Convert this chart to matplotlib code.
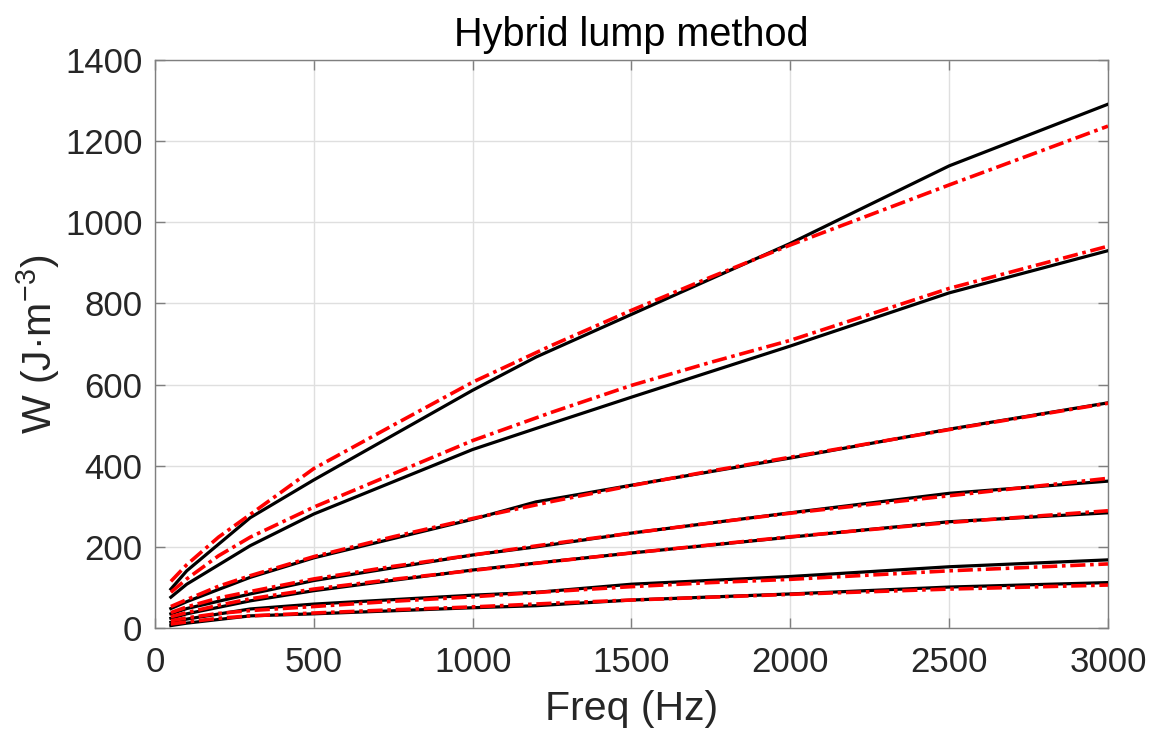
"""Hybrid lump method: measured (black) vs. model (red dash-dot) energy curves."""
import matplotlib
matplotlib.use("Agg")
import matplotlib.pyplot as plt

plt.rcParams["font.family"] = ["Liberation Sans", "DejaVu Sans"]
plt.rcParams["mathtext.default"] = "regular"

# measured curves (black)
freq_meas = [50, 100, 300, 500, 1000, 1200, 1500, 2000, 2500, 3000]
meas = [
    [96, 141, 272, 365, 586, 668, 773, 948, 1139, 1291],
    [76, 108, 203, 281, 440, 492, 569, 695, 826, 930],
    [48, 65, 125, 173, 268, 311, 352, 419, 490, 555],
    [35, 48, 84, 117, 180, 200, 234, 284, 332, 362],
    [24, 35, 67, 92, 143, 160, 185, 224, 262, 284],
    [14, 22, 47, 59, 81, 88, 108, 127, 151, 168],
    [6, 12, 30, 35, 50, 55, 69, 84, 101, 112],
]

# hybrid lump model (red)
freq_fit = [50, 100, 200, 300, 500, 750, 1000, 1250, 1500, 1750, 2000, 2500, 3000]
fit = [
    [115, 156, 224, 280, 393, 500, 606, 697, 783, 865, 944, 1092, 1237],
    [88, 121, 178, 224, 298, 380, 462, 532, 598, 655, 709, 837, 941],
    [53, 70, 103, 129, 176, 225, 270, 312, 351, 387, 421, 489, 554],
    [38, 52, 74, 90, 121, 152, 180, 208, 234, 259, 283, 326, 369],
    [28, 38, 56, 72, 96, 120, 142, 164, 185, 205, 225, 260, 289],
    [18, 25, 36, 43, 53, 66, 77, 90, 102, 112, 120, 141, 158],
    [10, 15, 24, 30, 37, 45, 52, 61, 69, 76, 83, 96, 106],
]

fig = plt.figure(figsize=(11.54, 7.36), dpi=100)
ax = fig.add_axes([0.1343, 0.1467, 0.8258, 0.7718])

for y in meas:
    ax.plot(freq_meas, y, color="black", lw=2.3, zorder=3)
for y in fit:
    ax.plot(freq_fit, y, color="red", lw=2.6, ls=(0, (4.2, 1.3, 1.0, 1.3)), zorder=4)

ax.set_xlim(0, 3000)
ax.set_ylim(0, 1400)
ax.set_xticks(range(0, 3001, 500))
ax.set_yticks(range(0, 1401, 200))
ax.grid(True, color="#dfdfdf", lw=1)
ax.set_axisbelow(True)
ax.tick_params(direction="in", length=7, width=1, colors="#7f7f7f",
               labelcolor="#262626", labelsize=25, top=True, right=True, pad=9)
ax.tick_params(axis="x", pad=13)
for sp in ax.spines.values():
    sp.set_color("#7f7f7f")
    sp.set_linewidth(1)

ax.set_xlabel("Freq (Hz)", fontsize=29.5, color="#262626", labelpad=8)
ax.set_ylabel("W (J·m$^{-3}$)", fontsize=29.5, color="#262626", labelpad=2)
ax.set_title("Hybrid lump method", fontsize=28.5, color="black", pad=10)

fig.savefig("out.png", dpi=100)
